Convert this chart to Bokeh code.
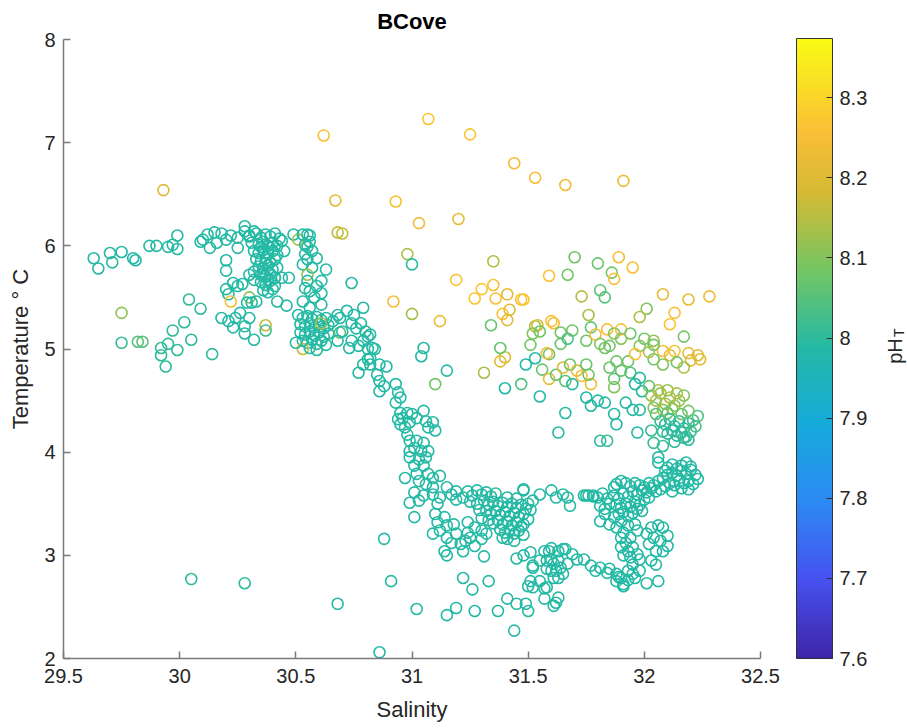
from bokeh.plotting import figure
from bokeh.models import (ColumnDataSource, LinearColorMapper, ColorBar, FixedTicker,
                          Label, Range1d)
from bokeh.embed import file_html
from bokeh.resources import INLINE

# ---------------- data: (salinity, temperature degC, pH_T) ----------------
west = [
    (29.63, 5.88, 7.99), (29.65, 5.78, 7.99), (29.70, 5.93, 7.99), (29.71, 5.84, 7.99),
    (29.75, 5.94, 7.99), (29.80, 5.88, 7.99), (29.81, 5.86, 7.99), (29.87, 6.00, 7.99),
    (29.90, 6.00, 7.99), (29.95, 5.99, 7.99), (29.97, 6.01, 7.99), (29.99, 5.97, 7.99),
    (29.99, 6.10, 7.99), (29.93, 6.54, 8.20), (29.75, 5.35, 8.11), (29.75, 5.06, 8.01),
    (29.82, 5.07, 8.05), (29.84, 5.07, 8.05), (29.92, 5.01, 8.01), (29.92, 4.94, 8.00),
    (29.95, 5.05, 8.00), (29.94, 4.83, 8.00), (29.97, 5.18, 8.00), (30.02, 5.26, 8.00),
    (29.99, 4.99, 8.00), (30.04, 5.48, 8.00), (30.05, 5.09, 8.00), (30.09, 5.39, 8.00),
    (30.14, 4.95, 8.00), (30.05, 2.77, 8.00), (30.28, 2.73, 8.00),
]

northwest = [
    (30.09, 6.04, 7.99), (30.10, 6.06, 7.99), (30.12, 6.11, 7.99), (30.13, 5.98, 7.99),
    (30.15, 6.13, 7.99), (30.16, 6.03, 7.99), (30.18, 6.12, 7.99), (30.20, 6.06, 7.99),
    (30.22, 6.10, 7.99), (30.25, 5.98, 7.99), (30.25, 6.08, 7.99), (30.28, 6.19, 7.99),
    (30.28, 6.14, 7.99), (30.30, 6.09, 7.99), (30.32, 6.14, 7.99), (30.20, 5.86, 7.99),
    (30.20, 5.76, 7.99), (30.23, 5.64, 7.99), (30.25, 5.61, 7.99), (30.27, 5.63, 7.99),
    (30.20, 5.58, 7.99), (30.21, 5.53, 7.99), (30.22, 5.46, 8.25), (30.30, 5.72, 7.99),
    (30.32, 5.67, 7.99), (30.32, 5.75, 7.99), (30.30, 5.50, 8.10), (30.33, 5.46, 7.99),
    (30.31, 5.45, 7.99), (30.29, 5.45, 7.99), (30.18, 5.30, 7.99), (30.21, 5.27, 7.99),
    (30.24, 5.30, 7.99), (30.26, 5.35, 7.99), (30.28, 5.22, 7.99), (30.30, 5.30, 7.99),
    (30.23, 5.21, 7.99), (30.28, 5.15, 7.99), (30.32, 5.09, 7.99), (30.37, 5.23, 8.16),
    (30.37, 5.18, 8.02), (30.46, 5.42, 7.99), (30.42, 5.46, 7.99), (30.41, 5.69, 7.99),
    (30.44, 5.69, 7.99), (30.47, 5.69, 7.99),
]

core_a = [
    (30.30, 6.10, 7.99), (30.33, 6.12, 7.99), (30.35, 6.08, 7.99), (30.37, 6.11, 7.99),
    (30.39, 6.09, 7.99), (30.41, 6.12, 7.99), (30.43, 6.07, 7.99), (30.31, 6.03, 7.99),
    (30.34, 6.01, 7.99), (30.36, 6.04, 7.99), (30.38, 6.00, 7.99), (30.40, 6.03, 7.99),
    (30.42, 6.00, 7.99), (30.32, 5.95, 7.99), (30.34, 5.93, 7.99), (30.36, 5.96, 7.99),
    (30.38, 5.92, 7.99), (30.40, 5.95, 7.99), (30.42, 5.91, 7.99), (30.33, 5.87, 7.99),
    (30.35, 5.85, 7.99), (30.37, 5.88, 7.99), (30.39, 5.84, 7.99), (30.41, 5.87, 7.99),
    (30.34, 5.80, 7.99), (30.36, 5.78, 7.99), (30.38, 5.81, 7.99), (30.40, 5.77, 7.99),
    (30.42, 5.79, 7.99), (30.35, 5.72, 7.99), (30.37, 5.70, 7.99), (30.39, 5.73, 7.99),
    (30.41, 5.69, 7.99), (30.35, 5.65, 7.99), (30.37, 5.62, 7.99), (30.39, 5.66, 7.99),
    (30.41, 5.61, 7.99), (30.36, 5.57, 7.99), (30.38, 5.55, 7.99), (30.40, 5.58, 7.99),
    (30.35, 5.99, 7.99), (30.37, 5.83, 7.99), (30.39, 5.98, 7.99), (30.36, 5.74, 7.99),
    (30.38, 5.67, 7.99), (30.44, 6.05, 7.99), (30.45, 5.95, 7.99),
]

core_b = [
    (30.49, 6.11, 7.99), (30.51, 6.06, 8.13), (30.53, 6.11, 7.99), (30.55, 6.11, 7.99),
    (30.56, 6.10, 7.99), (30.54, 6.01, 7.99), (30.56, 6.04, 7.99), (30.54, 5.92, 7.99),
    (30.55, 5.87, 7.99), (30.53, 5.82, 7.99), (30.57, 5.79, 7.99), (30.55, 5.72, 8.12),
    (30.55, 5.66, 7.99), (30.54, 5.59, 7.99), (30.56, 5.56, 7.99), (30.59, 5.61, 7.99),
    (30.61, 5.54, 7.99), (30.58, 5.50, 7.99), (30.53, 5.46, 7.99), (30.61, 5.43, 7.99),
    (30.56, 5.40, 7.99), (30.63, 5.77, 7.99), (30.61, 5.66, 7.99), (30.59, 5.88, 7.99),
    (30.57, 5.95, 7.99), (30.55, 5.99, 7.99),
    (30.51, 5.33, 7.99), (30.53, 5.30, 7.99), (30.55, 5.32, 7.99), (30.57, 5.29, 7.99),
    (30.59, 5.31, 7.99), (30.61, 5.28, 7.99), (30.63, 5.30, 7.99), (30.52, 5.24, 7.99),
    (30.54, 5.22, 7.99), (30.56, 5.25, 7.99), (30.58, 5.21, 7.99), (30.60, 5.24, 7.99),
    (30.62, 5.20, 7.99), (30.64, 5.23, 7.99), (30.52, 5.16, 7.99), (30.54, 5.14, 7.99),
    (30.56, 5.17, 7.99), (30.58, 5.13, 7.99), (30.60, 5.16, 7.99), (30.62, 5.12, 7.99),
    (30.64, 5.15, 7.99), (30.53, 5.08, 7.99), (30.55, 5.06, 7.99), (30.57, 5.09, 7.99),
    (30.59, 5.05, 7.99), (30.61, 5.08, 7.99), (30.63, 5.04, 7.99), (30.53, 5.00, 8.18),
    (30.50, 5.06, 7.99), (30.56, 5.01, 7.99), (30.59, 4.99, 7.99), (30.61, 5.25, 8.13),
]

slope = [
    (30.66, 5.27, 7.99), (30.69, 5.16, 8.05), (30.68, 5.08, 7.99), (30.70, 5.17, 7.99),
    (30.68, 5.33, 7.99), (30.72, 5.37, 7.99), (30.74, 5.25, 7.99), (30.75, 5.33, 7.99),
    (30.79, 5.40, 7.99), (30.78, 5.25, 7.99), (30.80, 5.17, 7.99), (30.81, 5.12, 7.99),
    (30.79, 5.08, 7.99), (30.82, 5.14, 7.99), (30.73, 5.01, 7.99), (30.74, 5.08, 7.99),
    (30.77, 5.03, 7.99), (30.84, 5.00, 7.99), (30.82, 4.91, 7.99), (30.81, 4.90, 7.99),
    (30.74, 5.64, 7.99), (30.69, 5.30, 7.99), (30.76, 5.20, 7.99), (30.81, 5.00, 7.99),
    (30.83, 5.01, 7.99), (30.79, 4.85, 7.99), (30.82, 4.85, 7.99), (30.77, 4.77, 7.99),
    (30.86, 4.85, 7.99), (30.89, 4.83, 7.99), (30.85, 4.75, 7.99), (30.86, 4.69, 7.99),
    (30.88, 4.64, 7.99), (30.86, 4.59, 7.99), (30.93, 4.66, 7.99), (30.94, 4.58, 7.99),
    (30.95, 4.53, 7.99), (30.93, 4.48, 7.99), (30.95, 4.38, 7.99), (30.96, 4.33, 7.99),
    (30.94, 4.32, 7.99), (30.98, 4.38, 7.99), (31.00, 4.37, 7.99), (30.95, 4.27, 7.99),
    (30.99, 4.29, 7.99), (31.02, 4.33, 7.99), (31.05, 4.40, 7.99), (31.06, 4.30, 7.99),
    (31.09, 4.29, 7.99), (31.10, 4.21, 7.99), (31.07, 4.24, 7.99), (30.97, 4.24, 7.99),
    (30.98, 4.17, 7.99), (30.99, 4.11, 7.99), (31.01, 4.04, 7.99), (30.99, 4.01, 7.99),
    (31.02, 4.11, 7.99), (31.04, 4.01, 7.99), (31.05, 4.09, 7.99), (31.07, 4.01, 7.99),
    (31.06, 3.95, 7.99), (31.03, 3.93, 7.99), (30.99, 3.95, 7.99), (31.01, 3.87, 7.99),
    (31.05, 3.87, 7.99), (30.97, 3.75, 7.99), (31.02, 3.79, 7.99), (31.03, 3.72, 7.99),
    (31.07, 3.79, 7.99), (31.09, 3.75, 7.99), (31.12, 3.77, 7.99), (31.06, 3.69, 7.99),
    (31.09, 3.66, 7.99), (31.01, 3.61, 7.99), (30.99, 3.51, 7.99), (31.03, 3.53, 7.99),
    (31.05, 3.58, 7.99), (31.01, 3.37, 7.99), (31.09, 3.59, 7.99), (31.11, 3.50, 7.99),
    (31.12, 3.56, 7.99), (31.15, 3.66, 7.99), (31.17, 3.59, 7.99), (31.19, 3.62, 7.99),
    (31.19, 3.54, 7.99), (31.22, 3.56, 7.99), (31.10, 3.40, 7.99), (31.11, 3.32, 7.99),
    (31.14, 3.37, 7.99), (31.09, 3.21, 7.99), (31.12, 3.24, 7.99), (31.15, 3.29, 7.99),
    (31.18, 3.30, 7.99), (31.19, 3.21, 7.99), (31.15, 3.17, 7.99), (31.17, 3.12, 7.99),
    (31.14, 3.04, 7.99), (31.15, 3.00, 7.99), (31.21, 3.11, 7.99), (31.23, 3.14, 7.99),
    (31.22, 3.04, 7.99), (31.25, 3.17, 7.99), (31.27, 3.09, 7.99), (31.30, 3.16, 7.99),
    (31.31, 2.99, 7.99), (31.24, 3.32, 7.99), (31.27, 3.27, 7.99), (31.30, 3.24, 7.99),
    (31.32, 3.21, 7.99), (31.24, 3.22, 7.99),
]

blob = [
    (31.24, 3.62, 7.99), (31.26, 3.58, 7.99), (31.28, 3.63, 7.99), (31.30, 3.59, 7.99),
    (31.32, 3.61, 7.99), (31.34, 3.57, 7.99), (31.36, 3.60, 7.99), (31.25, 3.52, 7.99),
    (31.28, 3.50, 7.99), (31.31, 3.53, 7.99), (31.33, 3.49, 7.99), (31.35, 3.52, 7.99),
    (31.37, 3.48, 7.99), (31.39, 3.51, 7.99), (31.41, 3.47, 7.99), (31.43, 3.50, 7.99),
    (31.45, 3.46, 7.99), (31.47, 3.49, 7.99), (31.49, 3.45, 7.99), (31.32, 3.43, 7.99),
    (31.34, 3.40, 7.99), (31.36, 3.43, 7.99), (31.38, 3.39, 7.99), (31.40, 3.42, 7.99),
    (31.42, 3.38, 7.99), (31.44, 3.41, 7.99), (31.46, 3.37, 7.99), (31.48, 3.40, 7.99),
    (31.33, 3.34, 7.99), (31.35, 3.31, 7.99), (31.37, 3.34, 7.99), (31.39, 3.30, 7.99),
    (31.41, 3.33, 7.99), (31.43, 3.29, 7.99), (31.45, 3.32, 7.99), (31.47, 3.28, 7.99),
    (31.38, 3.25, 7.99), (31.40, 3.22, 7.99), (31.42, 3.25, 7.99), (31.44, 3.21, 7.99),
    (31.46, 3.24, 7.99), (31.48, 3.20, 7.99), (31.29, 3.44, 7.99), (31.30, 3.36, 7.99),
    (31.50, 3.35, 7.99), (31.51, 3.44, 7.99), (31.41, 3.56, 7.99), (31.45, 3.55, 7.99),
    (31.48, 3.63, 7.99), (31.39, 3.17, 7.99), (31.41, 3.16, 7.99), (31.44, 3.14, 7.99),
    (31.48, 3.64, 7.99), (31.55, 3.59, 7.99), (31.60, 3.63, 7.99), (31.62, 3.56, 7.99),
    (31.65, 3.59, 7.99), (31.67, 3.56, 7.99), (31.68, 3.48, 7.99), (31.50, 3.50, 7.99),
    (31.52, 3.53, 7.99), (31.48, 3.30, 7.99), (31.75, 3.58, 7.99), (31.78, 3.58, 7.99),
    (31.80, 3.56, 7.99),
]

basin = [
    (31.22, 2.78, 7.99), (31.26, 2.67, 7.99), (31.33, 2.75, 7.99), (31.19, 2.49, 7.99),
    (31.27, 2.46, 7.99), (31.15, 2.42, 7.99), (31.37, 2.46, 7.99), (31.41, 2.58, 7.99),
    (31.45, 2.53, 7.99), (31.50, 2.46, 7.99), (31.44, 2.27, 7.99), (31.45, 2.97, 7.99),
    (31.48, 3.00, 7.99), (31.51, 3.03, 7.99), (31.52, 2.88, 7.99), (31.51, 2.75, 7.99),
    (31.50, 2.70, 7.99), (31.55, 2.75, 7.99), (31.57, 3.04, 7.99), (31.59, 3.04, 7.99),
    (31.58, 2.95, 7.99), (31.60, 2.85, 7.99), (31.58, 2.69, 7.99), (31.63, 3.04, 7.99),
    (31.61, 2.92, 7.99), (31.64, 2.88, 7.99), (31.63, 2.78, 7.99), (31.63, 2.59, 7.99),
    (31.62, 2.54, 7.99), (31.61, 2.51, 7.99), (31.66, 3.06, 7.99), (31.67, 2.92, 7.99),
    (31.55, 2.95, 7.99), (31.60, 2.96, 7.99), (31.63, 2.95, 7.99), (31.52, 2.90, 7.99),
    (31.58, 2.87, 7.99), (31.62, 2.85, 7.99), (31.65, 2.82, 7.99), (31.57, 2.68, 7.99),
    (31.61, 2.78, 7.99), (31.52, 2.69, 7.99), (31.57, 2.58, 7.99), (31.49, 2.53, 7.99),
    (31.60, 3.07, 7.99), (31.65, 3.06, 7.99), (30.88, 3.16, 7.99), (30.91, 2.75, 7.99),
    (30.68, 2.53, 7.99), (31.02, 2.48, 7.99), (30.86, 2.06, 7.99),
]

strand = [
    (31.69, 3.01, 7.99), (31.71, 2.96, 7.99), (31.74, 2.96, 7.99), (31.77, 2.90, 7.99),
    (31.79, 2.85, 7.99), (31.81, 2.88, 7.99), (31.84, 2.83, 7.99), (31.85, 2.87, 7.99),
    (31.88, 2.82, 7.99), (31.90, 2.78, 7.99), (31.91, 2.72, 7.99), (31.93, 2.85, 7.99),
    (31.95, 2.82, 7.99), (31.96, 2.78, 7.99), (31.98, 2.85, 7.99), (32.01, 2.73, 7.99),
    (32.06, 2.75, 7.99), (31.88, 2.75, 7.99), (31.91, 2.70, 7.99), (31.93, 2.76, 7.99),
    (31.89, 2.79, 7.99), (31.81, 3.33, 7.99), (31.83, 3.40, 7.99), (31.85, 3.30, 7.99),
    (31.87, 3.37, 7.99), (31.88, 3.27, 7.99), (31.90, 3.33, 7.99), (31.91, 3.22, 7.99),
    (31.93, 3.29, 7.99), (31.90, 3.17, 7.99), (31.92, 3.12, 7.99), (31.94, 3.17, 7.99),
    (31.90, 3.08, 7.99), (31.93, 3.04, 7.99), (31.95, 3.08, 7.99), (31.91, 3.00, 7.99),
    (31.94, 2.98, 7.99), (31.97, 3.01, 7.99), (31.95, 2.91, 7.99), (31.98, 2.96, 7.99),
    (31.97, 3.24, 7.99), (31.96, 3.30, 7.99), (32.03, 3.27, 7.99), (32.06, 3.29, 7.99),
    (32.08, 3.27, 7.99), (32.04, 3.17, 7.99), (32.07, 3.14, 7.99), (32.10, 3.19, 7.99),
    (32.10, 3.09, 7.99), (32.05, 3.04, 7.99), (32.08, 3.04, 7.99), (32.03, 2.95, 7.99),
    (32.05, 2.91, 7.99), (32.02, 3.11, 7.99), (32.01, 3.21, 7.99),
]

east = [
    (31.74, 3.58, 7.99), (31.76, 3.58, 7.99), (31.78, 3.57, 7.99), (31.82, 3.60, 7.99),
    (31.84, 3.55, 7.99), (31.81, 3.48, 7.99), (31.83, 3.45, 7.99), (31.85, 3.50, 7.99),
    (31.87, 3.66, 7.99), (31.88, 3.69, 7.99), (31.90, 3.72, 7.99), (31.92, 3.70, 7.99),
    (31.87, 3.58, 7.99), (31.89, 3.55, 7.99), (31.91, 3.60, 7.99), (31.93, 3.57, 7.99),
    (31.95, 3.62, 7.99), (31.97, 3.59, 7.99), (31.99, 3.63, 7.99), (32.01, 3.61, 7.99),
    (32.03, 3.65, 7.99), (31.88, 3.49, 7.99), (31.90, 3.46, 7.99), (31.92, 3.50, 7.99),
    (31.94, 3.47, 7.99), (31.96, 3.52, 7.99), (31.98, 3.49, 7.99), (32.00, 3.54, 7.99),
    (32.02, 3.56, 7.99), (31.89, 3.40, 7.99), (31.91, 3.42, 7.99), (31.93, 3.38, 7.99),
    (31.95, 3.41, 7.99), (31.97, 3.45, 7.99), (31.99, 3.43, 7.99), (31.94, 3.67, 7.99),
    (31.96, 3.70, 7.99), (31.98, 3.68, 7.99), (32.00, 3.66, 7.99), (32.02, 3.70, 7.99),
    (32.04, 3.68, 7.99), (32.06, 3.72, 7.99), (32.05, 3.62, 7.99), (32.07, 3.64, 7.99),
    (32.09, 3.67, 7.99), (32.11, 3.70, 7.99), (32.13, 3.68, 7.99), (32.15, 3.72, 7.99),
    (32.17, 3.70, 7.99), (32.08, 3.75, 7.99), (32.10, 3.78, 7.99), (32.12, 3.80, 7.99),
    (32.14, 3.77, 7.99), (32.16, 3.82, 7.99), (32.18, 3.79, 7.99), (32.20, 3.83, 7.99),
    (32.22, 3.78, 7.99), (32.10, 3.85, 7.99), (32.12, 3.88, 7.99), (32.14, 3.84, 7.99),
    (32.16, 3.87, 7.99), (32.18, 3.90, 7.99), (32.20, 3.86, 7.99), (32.06, 3.95, 7.99),
    (32.06, 3.90, 7.99), (32.09, 3.82, 7.99), (32.19, 3.72, 7.99), (32.21, 3.69, 7.99),
    (32.23, 3.74, 7.99), (32.16, 3.65, 7.99), (32.12, 3.62, 7.99), (32.19, 3.64, 7.99),
]

northeast = [
    (31.31, 4.77, 8.13), (31.38, 4.88, 8.21), (31.40, 4.92, 8.20), (31.40, 4.62, 7.99),
    (31.47, 4.66, 8.04), (31.49, 4.85, 7.99), (31.53, 4.91, 7.99), (31.55, 4.54, 7.99),
    (31.66, 4.38, 7.99), (31.63, 4.19, 7.99), (31.56, 4.80, 8.07), (31.59, 4.71, 8.22),
    (31.62, 4.75, 8.07), (31.65, 4.82, 8.20), (31.66, 4.69, 8.06), (31.68, 4.85, 8.07),
    (31.69, 4.66, 7.99), (31.71, 4.79, 8.20), (31.73, 4.74, 8.25), (31.75, 4.85, 8.07),
    (31.77, 4.66, 8.23), (31.76, 4.75, 8.08), (31.75, 4.53, 7.99), (31.77, 4.45, 7.99),
    (31.80, 4.50, 7.99), (31.83, 4.48, 7.99), (31.87, 4.37, 7.99), (31.88, 4.27, 7.99),
    (31.81, 4.11, 8.00), (31.84, 4.11, 8.00), (31.85, 4.82, 8.07), (31.88, 4.88, 8.08),
    (31.90, 4.79, 8.07), (31.87, 4.71, 8.06), (31.87, 4.63, 8.10), (31.93, 4.88, 8.08),
    (31.94, 4.77, 8.05), (31.96, 4.66, 7.99), (31.98, 4.72, 7.99), (31.99, 4.59, 7.99),
    (31.92, 4.48, 7.99), (31.95, 4.41, 7.99), (31.98, 4.41, 7.99), (31.97, 4.19, 7.99),
    (32.03, 4.55, 8.12), (32.05, 4.50, 8.14), (32.07, 4.57, 8.12), (32.09, 4.47, 8.13),
    (32.11, 4.53, 8.15), (32.13, 4.45, 8.12), (32.15, 4.50, 8.14), (32.04, 4.43, 8.10),
    (32.08, 4.41, 8.12), (32.12, 4.42, 8.10), (32.06, 4.60, 8.15), (32.10, 4.60, 8.12),
    (32.14, 4.57, 8.14), (32.17, 4.55, 8.10), (32.02, 4.64, 8.08), (32.07, 4.30, 8.00),
    (32.09, 4.27, 8.00), (32.11, 4.32, 8.01), (32.13, 4.25, 8.00), (32.15, 4.30, 8.00),
    (32.17, 4.23, 8.00), (32.19, 4.28, 8.01), (32.21, 4.31, 8.02), (32.08, 4.20, 8.00),
    (32.10, 4.18, 8.00), (32.12, 4.21, 8.00), (32.14, 4.16, 8.00), (32.16, 4.19, 8.00),
    (32.18, 4.15, 8.01), (32.20, 4.20, 8.02), (32.23, 4.35, 8.04), (32.22, 4.25, 8.03),
    (32.17, 4.14, 8.00), (32.19, 4.12, 8.00), (32.04, 4.09, 8.01), (32.08, 4.06, 8.01),
    (32.13, 4.10, 8.00), (32.03, 4.21, 8.02), (32.05, 4.37, 8.05), (32.10, 4.38, 8.06),
    (32.16, 4.37, 8.07), (32.19, 4.40, 8.08), (32.08, 4.98, 8.24), (32.11, 4.94, 8.22),
    (32.13, 4.98, 8.27), (32.19, 4.96, 8.22), (32.23, 4.94, 8.21), (32.20, 4.89, 8.20),
    (32.14, 4.87, 8.07), (32.04, 4.90, 8.08), (32.08, 4.85, 8.10), (32.17, 4.82, 8.14),
    (32.24, 4.90, 8.21), (32.02, 4.97, 8.15),
]

warm = [
    (30.62, 7.07, 8.26), (31.07, 7.23, 8.27), (31.25, 7.08, 8.27), (31.44, 6.80, 8.25),
    (31.53, 6.66, 8.25), (31.66, 6.59, 8.24), (31.91, 6.63, 8.23), (30.67, 6.44, 8.21),
    (30.93, 6.43, 8.25), (31.03, 6.22, 8.24), (31.20, 6.26, 8.22), (30.68, 6.13, 8.16),
    (30.70, 6.12, 8.17), (30.98, 5.92, 8.14), (31.00, 5.82, 7.99), (31.35, 5.85, 8.15),
    (31.19, 5.67, 8.27), (31.30, 5.58, 8.27), (31.27, 5.49, 8.27), (31.35, 5.62, 8.26),
    (31.36, 5.49, 8.26), (31.41, 5.53, 8.21), (31.47, 5.48, 8.27), (30.92, 5.46, 8.25),
    (31.00, 5.34, 8.13), (31.12, 5.27, 8.22), (31.39, 5.34, 8.27), (31.42, 5.38, 8.21),
    (31.41, 5.28, 8.20), (31.34, 5.23, 8.07), (31.53, 5.22, 8.14), (31.05, 5.01, 7.99),
    (31.04, 4.93, 7.99), (31.15, 4.79, 7.99), (31.10, 4.66, 8.08), (31.70, 5.89, 8.08),
    (31.59, 5.71, 8.26), (31.67, 5.72, 8.08), (31.80, 5.83, 8.07), (31.89, 5.89, 8.25),
    (31.86, 5.74, 8.08), (31.87, 5.68, 8.26), (31.95, 5.79, 8.26), (31.48, 5.48, 8.27),
    (31.73, 5.51, 8.15), (31.81, 5.57, 8.06), (31.83, 5.50, 8.05), (32.08, 5.53, 8.22),
    (32.19, 5.48, 8.21), (32.28, 5.51, 8.22), (31.76, 5.33, 8.14), (32.01, 5.39, 8.10),
    (31.98, 5.31, 8.15), (32.13, 5.35, 8.26), (32.11, 5.24, 8.27), (31.54, 5.23, 8.20),
    (31.60, 5.27, 8.26), (31.61, 5.25, 8.25), (31.55, 5.17, 8.08), (31.52, 5.15, 8.10),
    (31.64, 5.16, 8.08), (31.69, 5.18, 8.08), (31.77, 5.21, 8.06), (31.84, 5.19, 8.25),
    (31.90, 5.19, 8.26), (31.94, 5.15, 8.08), (31.87, 5.15, 8.10), (32.17, 5.12, 8.08),
    (31.51, 5.04, 8.08), (31.64, 5.05, 8.07), (31.67, 5.10, 8.03), (31.75, 5.08, 8.08),
    (31.79, 5.14, 8.25), (31.81, 5.05, 8.10), (31.85, 5.03, 8.08), (31.90, 5.10, 8.10),
    (31.98, 5.03, 8.10), (32.00, 5.10, 8.08), (32.04, 5.08, 8.12), (32.04, 5.04, 8.08),
    (31.96, 4.95, 8.26), (31.59, 4.95, 8.08), (31.38, 5.01, 8.06), (31.58, 4.96, 8.24),
    (31.83, 5.01, 8.08),
]

groups = [west, northwest, core_a, core_b, slope, blob, basin, strand, east, northeast, warm]
salinity = [pt[0] for g in groups for pt in g]
temperature = [pt[1] for g in groups for pt in g]
ph = [pt[2] for g in groups for pt in g]

x_ticks = [29.5, 30.0, 30.5, 31.0, 31.5, 32.0, 32.5]
y_ticks = [2, 3, 4, 5, 6, 7, 8]
cb_ticks = [7.6, 7.7, 7.8, 7.9, 8.0, 8.1, 8.2, 8.3]
PH_LOW, PH_HIGH = 7.6, 8.374

# ---------------- parula-like palette ----------------
stops = [
    (0.000, (62, 38, 168)), (0.125, (71, 80, 239)), (0.250, (45, 137, 244)),
    (0.375, (22, 170, 220)), (0.500, (35, 185, 165)), (0.625, (115, 198, 100)),
    (0.750, (212, 186, 52)), (0.850, (250, 190, 55)), (1.000, (249, 251, 20)),
]
palette = []
for i in range(256):
    f = i / 255
    for (f0, c0), (f1, c1) in zip(stops[:-1], stops[1:]):
        if f0 <= f <= f1:
            t = (f - f0) / (f1 - f0)
            c = [round(a + (b - a) * t) for a, b in zip(c0, c1)]
            palette.append("#%02x%02x%02x" % tuple(c))
            break

FONT = "Liberation Sans"
TXT = "#262626"
AX = "#7a7a7a"

p = figure(width=907, height=728, x_range=Range1d(29.5, 32.5), y_range=Range1d(2, 8),
           output_backend="svg", toolbar_location=None, title="BCove",
           min_border_left=63, min_border_right=147, min_border_top=38, min_border_bottom=70)
p.outline_line_color = None
p.xgrid.visible = False
p.ygrid.visible = False
p.background_fill_color = "white"
p.border_fill_color = "white"

p.title.text_font = FONT
p.title.text_font_size = "22px"
p.title.text_font_style = "bold"
p.title.align = "center"
p.title.text_color = "#000000"
p.title.standoff = 12

mapper = LinearColorMapper(palette=palette, low=PH_LOW, high=PH_HIGH)
src = ColumnDataSource(dict(sal=salinity, temp=temperature, ph=ph))
p.scatter("sal", "temp", source=src, marker="circle", size=11, line_width=1.6,
          fill_color=None, line_color={"field": "ph", "transform": mapper})

for ax in (p.xaxis[0], p.yaxis[0]):
    ax.axis_line_color = AX
    ax.axis_line_width = 1.5
    ax.major_tick_line_color = AX
    ax.major_tick_line_width = 1.5
    ax.major_tick_in = 7
    ax.major_tick_out = 0
    ax.minor_tick_line_color = None
    ax.major_label_text_font = FONT
    ax.major_label_text_font_size = "20px"
    ax.major_label_text_color = TXT
    ax.axis_label_text_font = FONT
    ax.axis_label_text_font_size = "22px"
    ax.axis_label_text_font_style = "normal"
    ax.axis_label_text_color = TXT

p.xaxis.ticker = FixedTicker(ticks=x_ticks)
p.xaxis.major_label_overrides = {29.5: "29.5", 30.0: "30", 30.5: "30.5", 31.0: "31",
                                 31.5: "31.5", 32.0: "32", 32.5: "32.5"}
p.xaxis.major_label_standoff = 10
p.xaxis.axis_label = "Salinity"
p.xaxis.axis_label_standoff = 11
p.yaxis.ticker = FixedTicker(ticks=y_ticks)
p.yaxis.major_label_standoff = 8
p.yaxis.axis_label = "Temperature \u00b0 C"
p.yaxis.axis_label_standoff = 8

# colorbar label pH_T (rotated); data units map to absolute canvas positions
p.add_layout(Label(x=33.077, y=4.98, text="pH", angle=90, angle_units="deg",
                   text_font=FONT, text_font_size="20px", text_color=TXT,
                   text_align="center", text_baseline="alphabetic"), "right")
p.add_layout(Label(x=33.098, y=5.116, text="T", angle=90, angle_units="deg",
                   text_font=FONT, text_font_size="14px", text_color=TXT,
                   text_align="left", text_baseline="alphabetic"), "right")

cb = ColorBar(color_mapper=mapper, ticker=FixedTicker(ticks=cb_ticks),
              major_label_overrides={8.0: "8"},
              width=36, height=620, padding=0, margin=0, location=(-2, 0),
              major_tick_in=6, major_tick_out=0, major_tick_line_color="#333333",
              minor_tick_line_color=None, bar_line_color="#333333", bar_line_width=1,
              major_label_text_font=FONT, major_label_text_font_size="20px",
              major_label_text_color=TXT, label_standoff=7,
              background_fill_color=None, border_line_color=None)
p.add_layout(cb, "right")

open("out.html", "w").write(file_html(p, INLINE))
